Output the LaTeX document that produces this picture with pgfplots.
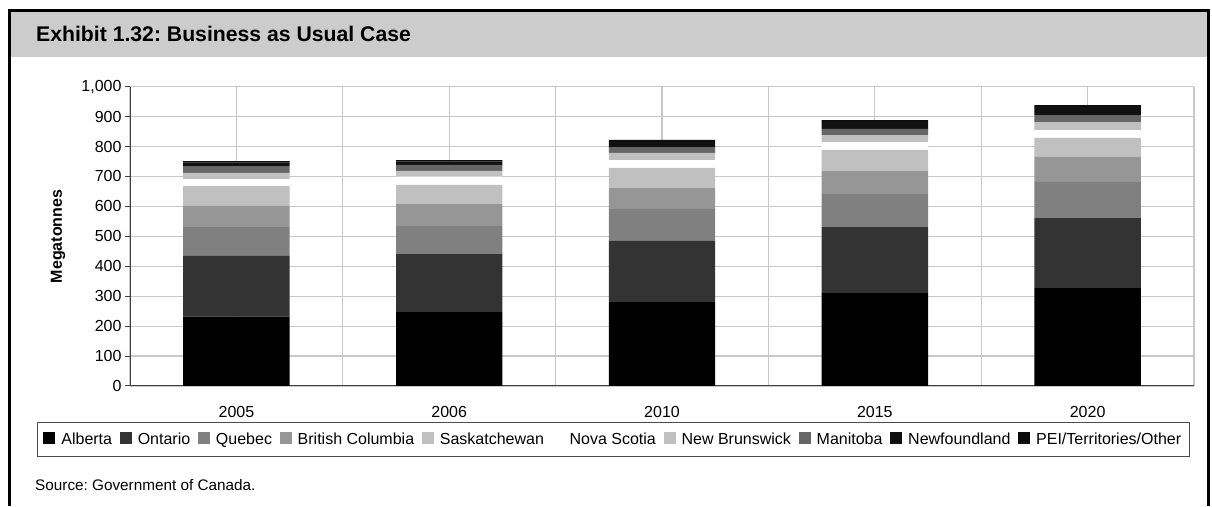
\documentclass[border=0pt]{standalone}
\usepackage{fontspec}
\setmainfont{Liberation Sans}
\usepackage{pgfplots}
\pgfplotsset{compat=1.18}
\frenchspacing
\definecolor{gridc}{HTML}{C8C8C8}
\definecolor{titlegray}{HTML}{CCCCCC}
\definecolor{cAlb}{HTML}{000000}
\definecolor{cOnt}{HTML}{333333}
\definecolor{cQue}{HTML}{808080}
\definecolor{cBC}{HTML}{969696}
\definecolor{cSask}{HTML}{C0C0C0}
\definecolor{cNS}{HTML}{FFFFFF}
\definecolor{cNB}{HTML}{C0C0C0}
\definecolor{cMan}{HTML}{666666}
\definecolor{cNfl}{HTML}{111111}
\definecolor{cPEI}{HTML}{0D0D0D}
\begin{document}
\begin{tikzpicture}
\useasboundingbox (0pt,0pt) rectangle (1212pt,506pt);
\fill[white] (0pt,0pt) rectangle (1212pt,506pt);
\fill[titlegray] (11pt,448.7pt) rectangle (1207pt,494pt);
\draw[line width=3pt] (9.5pt,0pt) -- (9.5pt,495.5pt) -- (1208.5pt,495.5pt) -- (1208.5pt,0pt);
\node[anchor=base west, inner sep=0pt, font=\bfseries\fontsize{21.2}{24}\selectfont] at (36pt,464.3pt) {Exhibit 1.32: Business as Usual Case};
\node[anchor=base west, inner sep=0pt, font=\fontsize{15.3}{18}\selectfont] at (35pt,16pt) {Source: Government of Canada.};
\begin{axis}[
  at={(130pt,120pt)}, anchor=south west,
  scale only axis, width=1064pt, height=299.3pt,
  ybar stacked, bar width=0.5,
  xmin=-0.5, xmax=4.5, ymin=0, ymax=1000,
  xtick={0,1,2,3,4}, xticklabels={2005,2006,2010,2015,2020},
  minor xtick={-0.5,0.5,1.5,2.5,3.5,4.5},
  ytick={0,100,...,1000},
  xmajorgrids, xminorgrids, ymajorgrids,
  major grid style={gridc, line width=1.2pt},
  minor grid style={gridc, line width=1.2pt},
  axis lines*=left,
  axis line style={black!75, line width=1pt},
  xtick style={draw=none},
  minor tick style={draw=none},
  ytick style={draw=black!75, line width=1pt},
  tick align=outside, major tick length=5pt,
  /pgf/number format/1000 sep={,},
  /pgf/number format/assume math mode=true,
  yticklabel style={font=\fontsize{16}{19}\selectfont},
  xticklabel style={font=\fontsize{16}{19}\selectfont, yshift=-12pt},
  ylabel={Megatonnes},
  ylabel style={font=\bfseries\fontsize{16}{19}\selectfont, at={(axis description cs:-0.0677,0.5)}, anchor=center},
  legend columns=10,
  legend style={at={(axis description cs:-0.0874,-0.1203)}, anchor=north west,
    draw=black!70, line width=0.8pt, font=\fontsize{16}{19}\selectfont,
    inner xsep=6pt, inner ysep=8.5pt,
    /tikz/every odd column/.append style={column sep=4pt},
    /tikz/every even column/.append style={column sep=5.7pt}},
  legend image code/.code={\fill[#1] (0pt,-5pt) rectangle (12pt,7pt);},
]
\addplot[fill=cAlb, draw=none] coordinates {(0,231.6) (1,247.0) (2,280.6) (3,310.7) (4,327.4)};
\addlegendentry{Alberta}
\addplot[fill=cOnt, draw=none] coordinates {(0,202.8) (1,194.0) (2,203.9) (3,220.5) (4,233.9)};
\addlegendentry{Ontario}
\addplot[fill=cQue, draw=none] coordinates {(0,96.6) (1,93.6) (2,106.9) (3,110.3) (4,120.3)};
\addlegendentry{Quebec}
\addplot[fill=cBC, draw=none] coordinates {(0,70.4) (1,73.4) (2,70.1) (3,76.8) (4,83.4)};
\addlegendentry{British Columbia}
\addplot[fill=cSask, draw=none] coordinates {(0,66.8) (1,63.6) (2,66.9) (3,70.2) (4,63.6)};
\addlegendentry{Saskatchewan}
\addplot[fill=cNS, draw=none] coordinates {(0,23.4) (1,27.8) (2,26.6) (3,26.7) (4,26.7)};
\addlegendentry{Nova Scotia}
\addplot[fill=cNB, draw=none] coordinates {(0,20.1) (1,19.0) (2,23.5) (3,23.4) (4,26.7)};
\addlegendentry{New Brunswick}
\addplot[fill=cMan, draw=none] coordinates {(0,23.3) (1,20.0) (2,20.0) (3,20.1) (4,23.4)};
\addlegendentry{Manitoba}
\addplot[fill=cNfl, draw=none] coordinates {(0,11.5) (1,11.5) (2,17.5) (3,23.5) (4,26.4)};
\addlegendentry{Newfoundland}
\addplot[fill=cPEI, draw=none] coordinates {(0,5.2) (1,5.1) (2,6.0) (3,6.5) (4,7.0)};
\addlegendentry{PEI/Territories/Other}
\end{axis}
\end{tikzpicture}
\end{document}
